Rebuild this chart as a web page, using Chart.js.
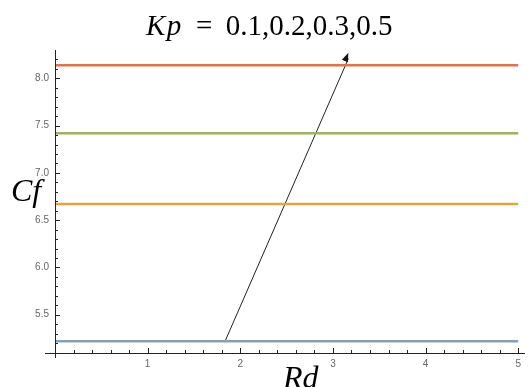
<!DOCTYPE html>
<html>
<head>
<meta charset="utf-8">
<script src="https://cdn.jsdelivr.net/npm/chart.js@4"></script>
<style>
  body { margin: 0; background: #fff; }
  #wrap { position: relative; width: 529px; height: 387px; overflow: hidden; }
  .lbl { position: absolute; font-family: "Liberation Serif", "Times New Roman", serif; line-height: 1; color: #000; white-space: nowrap; }
</style>
</head>
<body>
<div id="wrap">
  <canvas id="cfChart" width="529" height="387"></canvas>
  <div class="lbl" style="left:146px; top:11px; font-size:29px; word-spacing:6px;"><i style="letter-spacing:1.5px;">Kp</i> = 0.1,0.2,0.3,0.5</div>
  <div class="lbl" style="left:11px; top:174px; font-size:32px;"><i>Cf</i></div>
  <div class="lbl" style="left:283px; top:361px; font-size:32px;"><i>Rd</i></div>
</div>
<script>
// Cf against Rd for Kp = 0.1, 0.2, 0.3, 0.5 (constant lines)
const rdRange = [0, 5];
const cfKp01 = [5.22, 5.22];
const cfKp02 = [6.67, 6.67];
const cfKp03 = [7.42, 7.42];
const cfKp05 = [8.14, 8.14];

// arrow pointing in direction of increasing Kp
const arrowX = [1.836, 3.167];
const arrowY = [5.22, 8.27];

const xTickLabels = [1, 2, 3, 4, 5];
const yTickLabels = [5.5, 6.0, 6.5, 7.0, 7.5, 8.0];

const toPoints = (xs, ys) => xs.map((x, i) => ({ x: x, y: ys[i] }));

const lineSet = (data, color) => ({
  data: toPoints(rdRange, data),
  borderColor: color,
  borderWidth: 2.5,
  pointRadius: 0,
  fill: false,
});

// axes drawn mathematica style: crossing lines with inward ticks
const axesPlugin = {
  id: "axesPlugin",
  afterDraw(chart) {
    const ctx = chart.ctx;
    const xs = chart.scales.x;
    const ys = chart.scales.y;
    const area = chart.chartArea;
    const x0 = xs.getPixelForValue(0);
    const y0 = area.bottom;
    ctx.save();
    ctx.strokeStyle = "#222";
    ctx.lineWidth = 1;
    ctx.beginPath();
    ctx.moveTo(area.left - 10, y0 + 0.5);
    ctx.lineTo(area.right + 4, y0 + 0.5);
    ctx.moveTo(x0 + 0.5, area.top);
    ctx.lineTo(x0 + 0.5, y0 + 5);
    // x ticks every 0.2
    for (let i = 1; i <= 25; i++) {
      const v = i * 0.2;
      const px = Math.round(xs.getPixelForValue(v)) + 0.5;
      const len = i % 5 === 0 ? 5 : 3;
      ctx.moveTo(px, y0);
      ctx.lineTo(px, y0 - len);
    }
    // y ticks every 0.1
    for (let i = 52; i <= 82; i++) {
      const v = i / 10;
      const py = Math.round(ys.getPixelForValue(v)) + 0.5;
      const len = i % 5 === 0 ? 5 : 3;
      ctx.moveTo(x0, py);
      ctx.lineTo(x0 + len, py);
    }
    ctx.stroke();

    // arrow head
    const ax = xs.getPixelForValue(arrowX[1]);
    const ay = ys.getPixelForValue(arrowY[1]);
    const bx = xs.getPixelForValue(arrowX[0]);
    const by = ys.getPixelForValue(arrowY[0]);
    const ang = Math.atan2(ay - by, ax - bx);
    const L = 9, W = 3.2;
    ctx.fillStyle = "#111";
    ctx.beginPath();
    ctx.moveTo(ax, ay);
    ctx.lineTo(ax - L * Math.cos(ang) + W * Math.sin(ang), ay - L * Math.sin(ang) - W * Math.cos(ang));
    ctx.lineTo(ax - L * Math.cos(ang) - W * Math.sin(ang), ay - L * Math.sin(ang) + W * Math.cos(ang));
    ctx.closePath();
    ctx.fill();
    ctx.restore();
  }
};

const ctx = document.getElementById("cfChart").getContext("2d");

new Chart(ctx, {
  type: "line",
  data: {
    datasets: [
      lineSet(cfKp01, "#8a9fb6"),
      lineSet(cfKp02, "#e5a246"),
      lineSet(cfKp03, "#9db25a"),
      lineSet(cfKp05, "#e5704a"),
      {
        data: toPoints(arrowX, [arrowY[0], arrowY[1] - 0.06]),
        borderColor: "#222",
        borderWidth: 1,
        pointRadius: 0,
        fill: false,
      },
    ]
  },
  options: {
    responsive: false,
    animation: false,
    layout: { padding: { top: 50, right: 8, left: 0, bottom: 0 } },
    scales: {
      x: {
        type: "linear",
        min: 0,
        max: 5.03,
        grid: { display: false, drawTicks: false },
        border: { display: false },
        afterBuildTicks: s => { s.ticks = xTickLabels.map(v => ({ value: v })); },
        afterFit: s => { s.height = 34; },
        ticks: {
          padding: 5,
          maxRotation: 0,
          color: "#666",
          font: { family: "Liberation Sans", size: 10 },
          callback: v => String(v),
        }
      },
      y: {
        type: "linear",
        min: 5.095,
        max: 8.3,
        grid: { display: false, drawTicks: false },
        border: { display: false },
        afterBuildTicks: s => { s.ticks = yTickLabels.map(v => ({ value: v })); },
        afterFit: s => { s.width = 55; },
        ticks: {
          padding: 6,
          color: "#666",
          font: { family: "Liberation Sans", size: 10 },
          callback: v => Number(v).toFixed(1),
        }
      }
    },
    plugins: {
      legend: { display: false },
      tooltip: { enabled: false },
    }
  },
  plugins: [axesPlugin]
});
</script>
</body>
</html>
